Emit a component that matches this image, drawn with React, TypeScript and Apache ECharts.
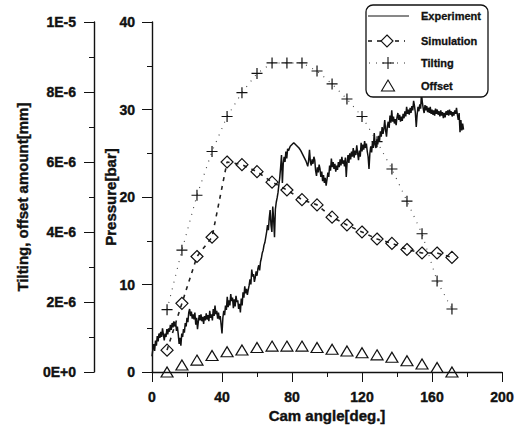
import { useEffect, useRef } from "react";
import * as echarts from "echarts";

// Cam angles of the simulated / measured sample points [deg.]
const camAngle = [
  8.6, 17.1, 25.7, 34.3, 42.9, 51.4, 60.0, 68.6, 77.1, 85.7,
  94.3, 102.9, 111.4, 120.0, 128.6, 137.1, 145.7, 154.3, 162.9, 171.4,
];

// Simulated pressure [bar]
const simulationPressure = [
  2.5, 7.85, 13.2, 15.4, 24.0, 23.7, 22.9, 21.7, 20.8, 19.7,
  19.1, 17.7, 16.8, 16.0, 15.2, 14.7, 14.0, 13.6, 13.6, 13.1,
];

// Tilting amount [mm]
const tiltingMm = [
  1.78e-6, 3.48e-6, 5.05e-6, 6.3e-6, 7.3e-6, 7.98e-6, 8.53e-6, 8.83e-6, 8.83e-6, 8.83e-6,
  8.6e-6, 8.23e-6, 7.8e-6, 7.3e-6, 6.58e-6, 5.8e-6, 4.88e-6, 3.95e-6, 2.6e-6, 1.8e-6,
];

// Offset amount [mm]
const offsetMm = [
  0.0, 0.2e-6, 0.34e-6, 0.47e-6, 0.58e-6, 0.63e-6, 0.7e-6, 0.74e-6, 0.74e-6, 0.74e-6,
  0.7e-6, 0.65e-6, 0.6e-6, 0.55e-6, 0.49e-6, 0.42e-6, 0.32e-6, 0.23e-6, 0.13e-6, 0.0,
];

// Measured pressure trace: [cam angle, pressure]
const experiment: [number, number][] = [
  [0, 1.8], [0.5, 2.6], [1, 3.2], [1.5, 2.4], [2, 3.6], [2.5, 3.0], [3, 4.1], [3.5, 3.5],
  [4, 4.4], [4.5, 3.9], [5, 4.6], [5.5, 4.0], [6, 5.0], [6.5, 4.3], [7, 3.6], [7.5, 4.4],
  [8, 4.0], [8.5, 4.9], [9, 4.3], [9.5, 5.0], [10, 4.6], [10.5, 5.4], [11, 4.8], [11.5, 5.6],
  [12, 5.1], [12.5, 5.8], [13, 5.2], [13.5, 5.7], [14, 4.7], [14.5, 5.2], [15, 4.3], [15.5, 3.2],
  [16, 3.9], [16.5, 3.0], [17, 4.4], [17.5, 4.0], [18, 4.9], [18.5, 4.5], [19, 5.6], [19.5, 5.2],
  [20, 6.2], [20.5, 5.7], [21, 6.8], [21.5, 7.2], [22, 6.4], [22.5, 6.9], [23, 6.1], [23.5, 6.6],
  [24, 6.0], [24.5, 6.8], [25, 5.4], [25.5, 6.2], [26, 4.9], [26.5, 5.8], [27, 6.5], [27.5, 5.9],
  [28, 6.6], [28.5, 5.8], [29, 6.3], [29.5, 5.5], [30, 6.4], [30.5, 5.9], [31, 6.7], [31.5, 6.0],
  [32, 6.5], [32.5, 5.8], [33, 7.0], [33.5, 6.2], [34, 6.6], [34.5, 5.9], [35, 7.2], [35.5, 6.4],
  [36, 7.6], [36.5, 6.6], [37, 7.0], [37.5, 6.1], [38, 6.8], [38.5, 6.0], [39, 6.4], [39.5, 5.4],
  [40, 4.4], [40.5, 6.2], [41, 7.0], [41.5, 6.5], [42, 7.6], [42.5, 7.1], [43, 8.6], [43.5, 7.4],
  [44, 8.2], [44.5, 7.6], [45, 8.9], [45.5, 8.1], [46, 8.5], [46.5, 7.3], [47, 8.3], [47.5, 7.5],
  [48, 8.7], [48.5, 8.0], [49, 8.2], [49.5, 7.2], [50, 7.8], [50.5, 6.8], [51, 8.4], [51.5, 7.6],
  [52, 9.1], [52.5, 8.5], [53, 9.8], [53.5, 9.0], [54, 9.5], [54.5, 8.8], [55, 9.4], [55.5, 9.9],
  [56, 10.6], [56.5, 10.0], [57, 11.7], [57.5, 10.9], [58, 11.2], [58.5, 10.3], [59, 10.8], [59.5, 11.5],
  [60, 11.0], [60.5, 11.8], [61, 12.2], [61.5, 11.6], [62, 12.6], [62.5, 13.0], [63, 13.6], [63.5, 13.9],
  [64, 14.5], [64.5, 14.8], [65, 15.4], [65.5, 16.0], [66, 16.8], [66.5, 16.2], [67, 17.6], [67.5, 18.5],
  [68, 16.8], [68.5, 16.0], [69, 18.9], [69.5, 17.5], [70, 15.4], [70.5, 18.6], [71, 19.4], [71.5, 19.9],
  [72, 20.5], [72.5, 21.4], [73, 22.2], [73.5, 23.4], [74, 24.8], [74.5, 21.6], [75, 23.8], [75.5, 24.6],
  [76, 24.0], [76.5, 25.2], [77, 24.4], [77.5, 25.5], [78, 25.3], [79, 25.8], [80, 26.0], [81, 26.2],
  [82, 26.0], [83, 25.8], [84, 25.6], [85, 25.3], [86, 24.9], [87, 24.5], [88, 24.1], [89, 23.5],
  [89.5, 24.2], [90, 25.4], [90.5, 24.0], [91, 23.6], [91.5, 24.3], [92, 23.8], [92.5, 24.6], [93, 24.2],
  [93.5, 23.0], [94, 22.4], [94.5, 23.4], [95, 22.8], [95.5, 23.7], [96, 23.2], [96.5, 22.3], [97, 22.9],
  [97.5, 21.8], [98, 22.5], [98.5, 21.6], [99, 22.2], [99.5, 21.3], [100, 22.0], [100.5, 22.8], [101, 22.3],
  [101.5, 23.6], [102, 23.0], [102.5, 24.4], [103, 23.4], [103.5, 24.0], [104, 23.2], [104.5, 23.8], [105, 22.9],
  [105.5, 23.6], [106, 23.1], [106.5, 24.0], [107, 23.4], [107.5, 24.3], [108, 23.6], [108.5, 24.6], [109, 23.8],
  [109.5, 24.2], [110, 23.5], [110.5, 24.5], [111, 22.3], [111.5, 24.0], [112, 24.8], [112.5, 23.9], [113, 25.0],
  [113.5, 24.3], [114, 25.2], [114.5, 24.6], [115, 25.6], [115.5, 24.5], [116, 25.3], [116.5, 24.8], [117, 25.9],
  [117.5, 25.0], [118, 24.2], [118.5, 25.3], [119, 24.6], [119.5, 26.2], [120, 25.2], [120.5, 26.0], [121, 25.4],
  [121.5, 26.4], [122, 25.6], [122.5, 26.1], [123, 25.2], [123.5, 24.6], [124, 23.2], [124.5, 25.0], [125, 25.8],
  [125.5, 25.1], [126, 26.3], [126.5, 25.6], [127, 27.3], [127.5, 26.0], [128, 25.6], [128.5, 26.6], [129, 26.0],
  [129.5, 27.0], [130, 26.4], [130.5, 27.5], [131, 26.9], [131.5, 28.0], [132, 27.2], [132.5, 27.8], [133, 28.8],
  [133.5, 27.6], [134, 26.9], [134.5, 28.1], [135, 28.6], [135.5, 27.9], [136, 29.3], [136.5, 28.5], [137, 29.9],
  [137.5, 28.6], [138, 29.2], [138.5, 28.4], [139, 28.9], [139.5, 28.2], [140, 29.1], [140.5, 29.6], [141, 28.8],
  [141.5, 29.4], [142, 28.6], [142.5, 29.2], [143, 28.7], [143.5, 29.5], [144, 29.0], [144.5, 29.8], [145, 29.2],
  [145.5, 30.3], [146, 29.5], [146.5, 30.0], [147, 29.4], [147.5, 30.2], [148, 29.6], [148.5, 30.4], [149, 29.9],
  [149.5, 31.0], [150, 30.4], [150.5, 29.6], [151, 28.0], [151.5, 29.4], [152, 30.3], [152.5, 29.8], [153, 30.6],
  [153.5, 30.1], [154, 31.8], [154.5, 30.8], [155, 30.1], [155.5, 29.6], [156, 30.5], [156.5, 29.9], [157, 30.4],
  [157.5, 29.7], [158, 30.2], [158.5, 29.6], [159, 30.3], [159.5, 29.5], [160, 30.0], [160.5, 29.4], [161, 29.9],
  [161.5, 29.3], [162, 30.1], [162.5, 29.5], [163, 30.0], [163.5, 29.4], [164, 29.8], [164.5, 29.2], [165, 29.9],
  [165.5, 29.3], [166, 29.7], [166.5, 29.0], [167, 29.6], [167.5, 29.1], [168, 29.8], [168.5, 29.4], [169, 29.9],
  [169.5, 29.3], [170, 30.0], [170.5, 29.4], [171, 29.8], [171.5, 29.2], [172, 29.7], [172.5, 29.3], [173, 29.9],
  [173.5, 29.5], [174, 30.2], [174.5, 29.4], [175, 28.8], [175.5, 29.6], [176, 27.4], [176.5, 28.8], [177, 27.6],
  [177.5, 28.4], [178, 27.7],
];

// Tick labels of the tilting / offset axis (0 .. 1E-5 mm, step 2E-6)
const tiltingTickLabels = ["0E+0", "2E-6", "4E-6", "6E-6", "8E-6", "1E-5"];

const FONT = "'Liberation Sans', Arial, sans-serif";
const INK = "#111";

const tickLabelStyle = {
  color: INK,
  fontFamily: FONT,
  fontWeight: "bold" as const,
  fontSize: 14,
  textBorderColor: INK,
  textBorderWidth: 0.4,
};
const axisNameStyle = {
  color: INK,
  fontFamily: FONT,
  fontWeight: "bold" as const,
  fontSize: 15,
  textBorderColor: INK,
  textBorderWidth: 0.4,
};

function axisCommon() {
  return {
    axisLine: { show: true, lineStyle: { color: INK, width: 1.4 } },
    axisTick: { show: true, inside: false, length: 10, lineStyle: { color: INK, width: 1 } },
    minorTick: { show: true, splitNumber: 2, length: 5, lineStyle: { color: INK, width: 1 } },
    splitLine: { show: false },
    minorSplitLine: { show: false },
    nameMoveOverlap: false,
  };
}

function legendGraphic() {
  const txt = (y: number, text: string) => ({
    type: "text",
    x: 421,
    y,
    style: {
      text,
      fill: INK,
      fontFamily: FONT,
      fontWeight: "bold",
      fontSize: 11,
      verticalAlign: "middle",
      align: "left",
      stroke: INK,
      lineWidth: 0.3,
    },
    z: 101,
  });
  const stroke = { stroke: INK, lineWidth: 1.1, fill: "none" };
  return [
    {
      type: "rect",
      shape: { x: 366, y: 5, width: 122, height: 92, r: 7 },
      style: { fill: "#fff", stroke: INK, lineWidth: 1.3 },
      z: 100,
    },
    // Experiment
    { type: "line", shape: { x1: 368, y1: 16, x2: 409, y2: 16 }, style: { stroke: INK, lineWidth: 1 }, z: 101 },
    txt(16, "Experiment"),
    // Simulation
    {
      type: "line",
      shape: { x1: 368, y1: 41, x2: 405, y2: 41 },
      style: { stroke: INK, lineWidth: 1.4, lineDash: [4, 5] },
      z: 101,
    },
    {
      type: "polygon",
      shape: { points: [[387, 35], [393, 41], [387, 47], [381, 41]] },
      style: { ...stroke, fill: "#fff" },
      z: 102,
    },
    txt(41, "Simulation"),
    // Tilting
    {
      type: "line",
      shape: { x1: 369, y1: 63, x2: 405, y2: 63 },
      style: { stroke: "#333", lineWidth: 1, lineDash: [1, 6] },
      z: 101,
    },
    { type: "line", shape: { x1: 382, y1: 63, x2: 394, y2: 63 }, style: { stroke: INK, lineWidth: 1.1 }, z: 102 },
    { type: "line", shape: { x1: 388, y1: 57, x2: 388, y2: 69 }, style: { stroke: INK, lineWidth: 1.1 }, z: 102 },
    txt(63, "Tilting"),
    // Offset
    {
      type: "polygon",
      shape: { points: [[388, 80], [394.5, 91], [381.5, 91]] },
      style: stroke,
      z: 102,
    },
    txt(86, "Offset"),
  ];
}

export default function App() {
  const ref = useRef<HTMLDivElement>(null);

  useEffect(() => {
    if (!ref.current) return;
    const chart = echarts.init(ref.current, null, { renderer: "svg" });

    const clear = "rgba(0,0,0,0)";

    chart.setOption({
      animation: false,
      backgroundColor: "#fff",
      grid: { left: 152, top: 22, width: 350, height: 350, containLabel: false },
      xAxis: {
        type: "value",
        min: 0,
        max: 200,
        interval: 40,
        name: "Cam angle[deg.]",
        nameLocation: "middle",
        nameGap: 36,
        nameTextStyle: axisNameStyle,
        ...axisCommon(),
        axisLabel: { ...tickLabelStyle, margin: 18 },
      },
      yAxis: [
        {
          type: "value",
          position: "left",
          offset: 0,
          min: 0,
          max: 40,
          interval: 10,
          name: "Pressure[bar]",
          nameLocation: "middle",
          nameGap: 34,
          nameTextStyle: axisNameStyle,
          ...axisCommon(),
          axisLabel: { ...tickLabelStyle, margin: 17 },
        },
        {
          type: "value",
          position: "left",
          offset: 58,
          min: 0,
          max: 1e-5,
          interval: 2e-6,
          name: "Tilting, offset amount[mm]",
          nameLocation: "middle",
          nameGap: 64,
          nameTextStyle: axisNameStyle,
          ...axisCommon(),
          axisLabel: {
            ...tickLabelStyle,
            margin: 18,
            formatter: (v: number) => tiltingTickLabels[Math.round(v / 2e-6)] ?? "",
          },
        },
      ],
      series: [
        {
          name: "Experiment",
          type: "line",
          yAxisIndex: 0,
          data: experiment,
          symbol: "none",
          lineStyle: { color: INK, width: 1.5 },
          z: 2,
        },
        {
          name: "Simulation",
          type: "line",
          yAxisIndex: 0,
          data: camAngle.map((a, i) => [a, simulationPressure[i]]),
          symbol: "diamond",
          symbolSize: 12,
          itemStyle: { color: clear, borderColor: INK, borderWidth: 1.2 },
          lineStyle: { color: "#222", width: 1.6, type: [4, 5] },
          z: 3,
        },
        {
          name: "Tilting",
          type: "line",
          yAxisIndex: 1,
          data: camAngle.map((a, i) => [a, tiltingMm[i]]),
          symbol: "path://M0,5L10,5M5,0L5,10",
          symbolSize: 11,
          itemStyle: { color: clear, borderColor: INK, borderWidth: 1.2 },
          lineStyle: { color: "#444", width: 1.1, type: [1, 6] },
          z: 3,
        },
        {
          name: "Offset",
          type: "line",
          yAxisIndex: 1,
          data: camAngle.map((a, i) => [a, offsetMm[i]]),
          symbol: "triangle",
          symbolSize: [12, 10],
          itemStyle: { color: clear, borderColor: INK, borderWidth: 1.2 },
          lineStyle: { width: 0, opacity: 0 },
          z: 3,
        },
      ],
      graphic: legendGraphic(),
    });

    return () => chart.dispose();
  }, []);

  return (
    <div
      ref={ref}
      style={{ position: "fixed", left: 0, top: 0, width: 518, height: 429 }}
    />
  );
}
